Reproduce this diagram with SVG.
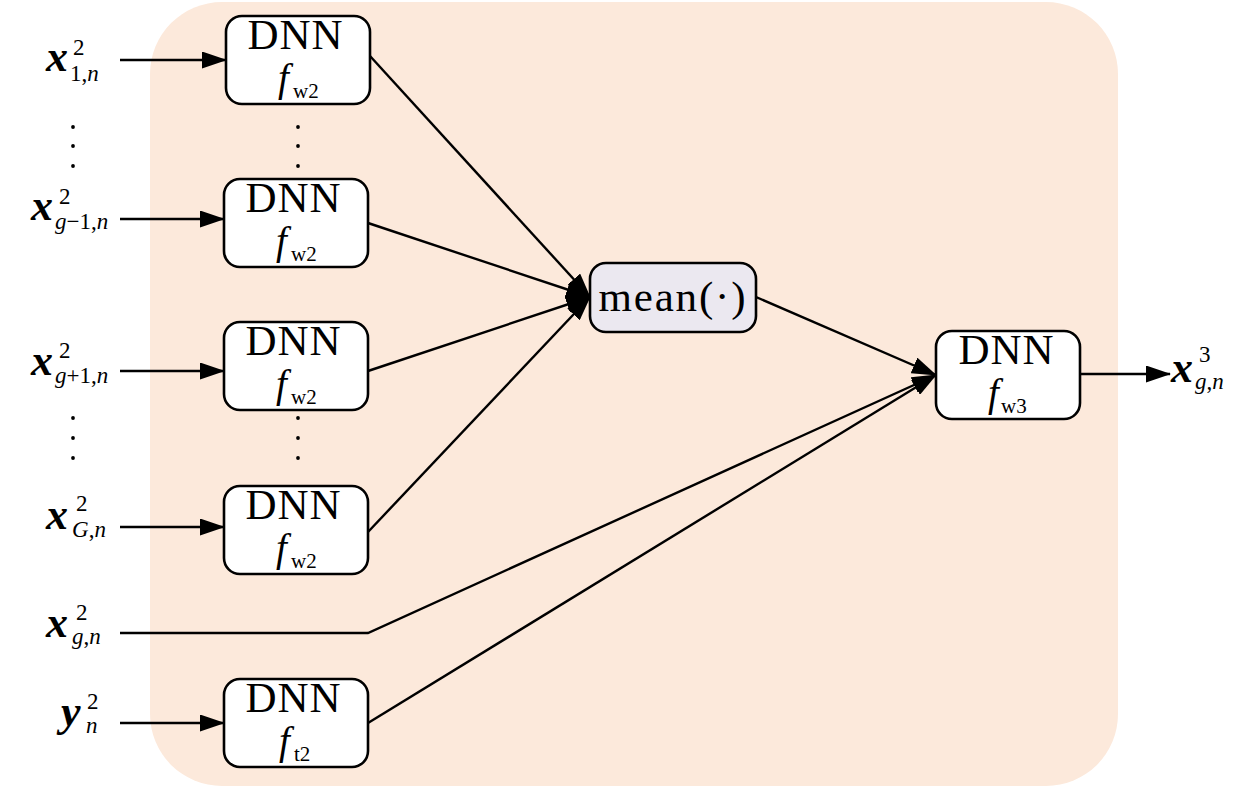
<svg xmlns="http://www.w3.org/2000/svg" width="1260" height="787" viewBox="0 0 1260 787">
<style>
.box{fill:#ffffff;stroke:#000;stroke-width:2.6}
.mean{fill:#ebe8f0;stroke:#000;stroke-width:2.6}
.dnn{font-family:"Liberation Serif",serif;font-size:43px;text-anchor:middle}
.f{font-family:"Liberation Serif",serif;font-size:39px;font-style:italic}
.sb{font-family:"Liberation Serif",serif;font-size:21px}
.bx{font-family:"Liberation Serif",serif;font-size:44px;font-weight:bold;font-style:italic}
.sc{font-family:"Liberation Serif",serif;font-size:23px}
.it{font-style:italic}
.c{fill:none;stroke:#000;stroke-width:2.4}
</style>
<defs>
<marker id="ah" markerUnits="userSpaceOnUse" markerWidth="25" markerHeight="17" refX="24" refY="8.5" orient="auto">
<path d="M0,0 L25,8.5 L0,17 z" fill="#000"/>
</marker>
</defs>
<rect id="background" x="150" y="2" width="968" height="784" rx="72" fill="#fce9db"/>

<g id="connectors">
<line class="c" x1="120" y1="60" x2="226" y2="60" marker-end="url(#ah)"/>
<line class="c" x1="120" y1="219" x2="224" y2="219" marker-end="url(#ah)"/>
<line class="c" x1="120" y1="371" x2="224" y2="371" marker-end="url(#ah)"/>
<line class="c" x1="120" y1="527" x2="224" y2="527" marker-end="url(#ah)"/>
<line class="c" x1="120" y1="723" x2="224" y2="723" marker-end="url(#ah)"/>
<line class="c" x1="370" y1="56" x2="590" y2="297" marker-end="url(#ah)"/>
<line class="c" x1="368" y1="223" x2="590" y2="297" marker-end="url(#ah)"/>
<line class="c" x1="368" y1="371" x2="590" y2="297" marker-end="url(#ah)"/>
<line class="c" x1="368" y1="532" x2="590" y2="297" marker-end="url(#ah)"/>
<line class="c" x1="756" y1="297" x2="936" y2="375" marker-end="url(#ah)"/>
<polyline class="c" points="120,633 368,633 936,375" marker-end="url(#ah)"/>
<line class="c" x1="368" y1="723" x2="936" y2="375" marker-end="url(#ah)"/>
<line class="c" x1="1080" y1="374" x2="1170" y2="374" marker-end="url(#ah)"/>
</g>

<g id="dots" fill="#000">
<circle cx="73" cy="127" r="1.9"/><circle cx="73" cy="146" r="1.9"/><circle cx="73" cy="166" r="1.9"/>
<circle cx="298" cy="127" r="1.9"/><circle cx="298" cy="146" r="1.9"/><circle cx="298" cy="166" r="1.9"/>
<circle cx="73" cy="418" r="1.9"/><circle cx="73" cy="438" r="1.9"/><circle cx="73" cy="458" r="1.9"/>
<circle cx="298" cy="418" r="1.9"/><circle cx="298" cy="438" r="1.9"/><circle cx="298" cy="458" r="1.9"/>
</g>

<g id="dnn1">
<rect class="box" x="226" y="16" width="144" height="88" rx="16"/>
<text class="dnn" x="295" y="49" textLength="95" lengthAdjust="spacing">DNN</text>
<text class="f" x="278" y="91">f</text>
<text class="sb" x="293" y="98">w2</text>
</g>
<g id="dnn2">
<rect class="box" x="224" y="179" width="144" height="88" rx="16"/>
<text class="dnn" x="293" y="212" textLength="95" lengthAdjust="spacing">DNN</text>
<text class="f" x="276" y="254">f</text>
<text class="sb" x="291" y="261">w2</text>
</g>
<g id="dnn3">
<rect class="box" x="224" y="322" width="144" height="88" rx="16"/>
<text class="dnn" x="293" y="355" textLength="95" lengthAdjust="spacing">DNN</text>
<text class="f" x="276" y="397">f</text>
<text class="sb" x="291" y="404">w2</text>
</g>
<g id="dnn4">
<rect class="box" x="224" y="486" width="144" height="88" rx="16"/>
<text class="dnn" x="293" y="519" textLength="95" lengthAdjust="spacing">DNN</text>
<text class="f" x="276" y="561">f</text>
<text class="sb" x="291" y="568">w2</text>
</g>
<g id="dnn5">
<rect class="box" x="224" y="679" width="144" height="88" rx="16"/>
<text class="dnn" x="293" y="712" textLength="95" lengthAdjust="spacing">DNN</text>
<text class="f" x="279" y="754">f</text>
<text class="sb" x="294" y="761">t2</text>
</g>
<g id="mean">
<rect class="mean" x="590" y="263" width="166" height="69" rx="16"/>
<text class="dnn" x="672" y="311" font-size="44" textLength="147" lengthAdjust="spacing">mean(·)</text>
</g>
<g id="dnn6">
<rect class="box" x="936" y="331" width="144" height="88" rx="16"/>
<text class="dnn" x="1006" y="364" textLength="95" lengthAdjust="spacing">DNN</text>
<text class="f" x="988" y="406">f</text>
<text class="sb" x="1001" y="413">w3</text>
</g>

<g id="label-x1n">
<text class="bx" x="46" y="71">x</text>
<text class="sc" x="73" y="55">2</text>
<text class="sc" x="70" y="81">1,<tspan class="it">n</tspan></text>
</g>
<g id="label-xg-1n">
<text class="bx" x="31" y="220">x</text>
<text class="sc" x="59" y="204">2</text>
<text class="sc" x="55" y="229"><tspan class="it">g</tspan>−1,<tspan class="it">n</tspan></text>
</g>
<g id="label-xg+1n">
<text class="bx" x="31" y="375">x</text>
<text class="sc" x="59" y="358">2</text>
<text class="sc" x="55" y="383"><tspan class="it">g</tspan>+1,<tspan class="it">n</tspan></text>
</g>
<g id="label-xGn">
<text class="bx" x="46" y="529">x</text>
<text class="sc" x="76" y="511">2</text>
<text class="sc" x="72" y="537"><tspan class="it">G</tspan>,<tspan class="it">n</tspan></text>
</g>
<g id="label-xgn">
<text class="bx" x="46" y="637">x</text>
<text class="sc" x="76" y="620">2</text>
<text class="sc" x="72" y="644"><tspan class="it">g</tspan>,<tspan class="it">n</tspan></text>
</g>
<g id="label-yn">
<text class="bx" x="61" y="726">y</text>
<text class="sc" x="87" y="709">2</text>
<text class="sc" x="86" y="733"><tspan class="it">n</tspan></text>
</g>
<g id="label-xg3">
<text class="bx" x="1171" y="382">x</text>
<text class="sc" x="1199" y="362">3</text>
<text class="sc" x="1195" y="389"><tspan class="it">g</tspan>,<tspan class="it">n</tspan></text>
</g>
</svg>
